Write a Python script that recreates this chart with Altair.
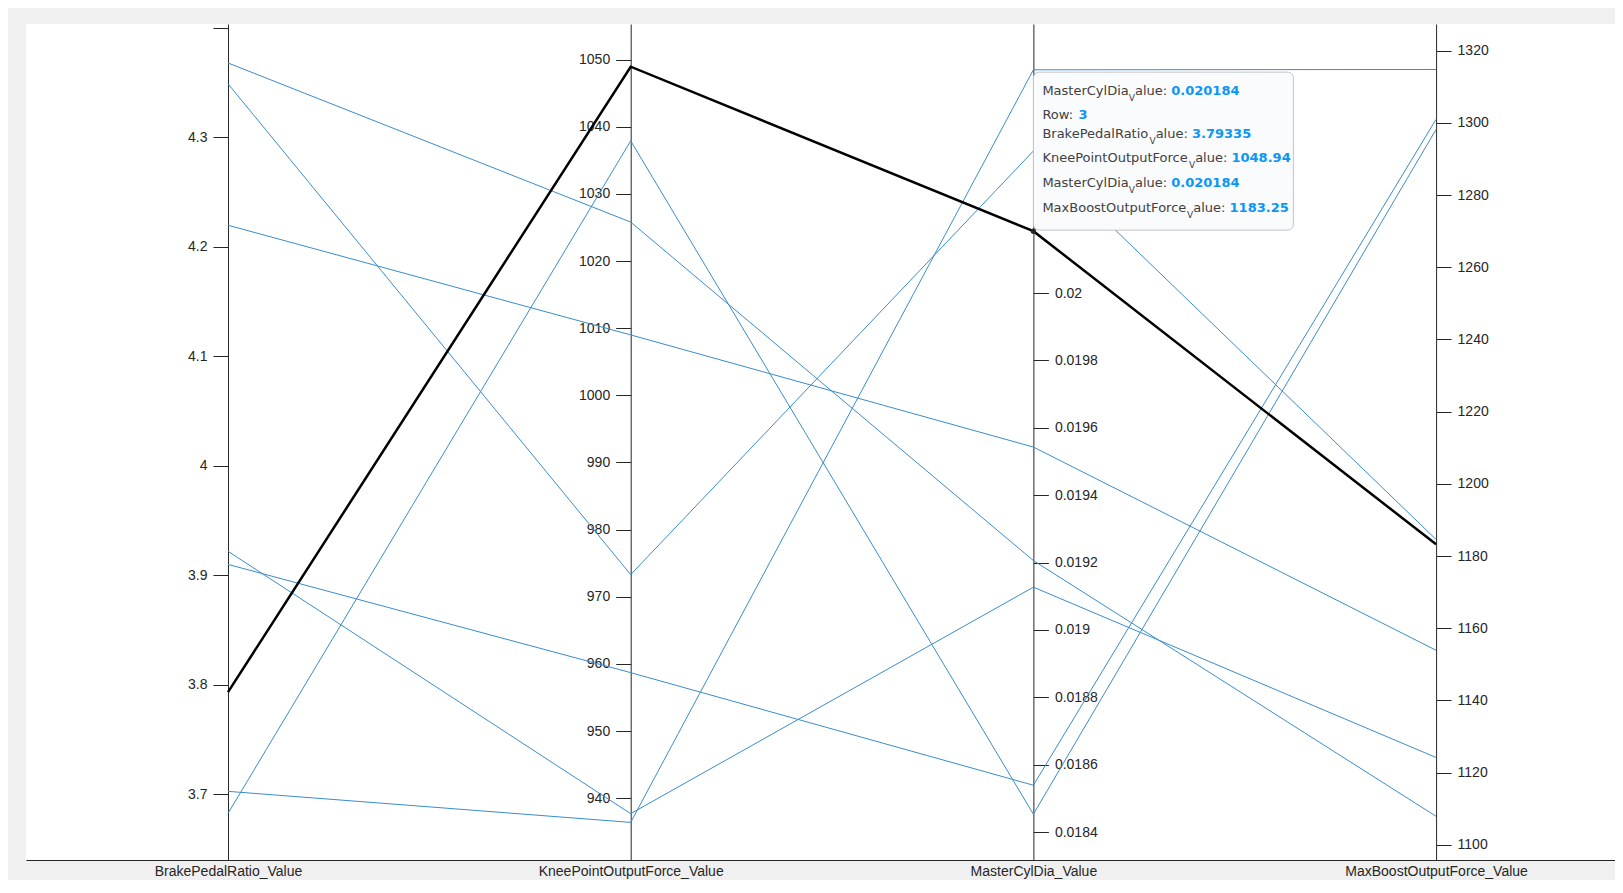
import altair as alt
import pandas as pd

# ---------------- data ----------------
names = ["BrakePedalRatio_Value", "KneePointOutputForce_Value",
         "MasterCylDia_Value", "MaxBoostOutputForce_Value"]
row_ids = [1, 2, 3, 4, 5, 6, 7, 8]
brake = [4.368, 4.349, 3.79335, 4.2198, 3.922, 3.910, 3.7027, 3.6825]
knee = [1025.8, 973.3, 1048.94, 1009.0, 937.7, 958.7, 936.4, 1037.9]
mcd = [0.019206, 0.020422, 0.020184, 0.019543, 0.019127, 0.018539, 0.020663, 0.018453]
maxb = [1107.9, 1184.6, 1183.25, 1153.9, 1124.2, 1301.0, 1314.8, 1298.2]
highlight_row = 3

axis_lo = [3.640, 930.8, 0.018317, 1095.8]
axis_hi = [4.4036, 1055.3, 0.020799, 1327.4]

ticks_brake = [3.7, 3.8, 3.9, 4.0, 4.1, 4.2, 4.3, 4.4]
ticks_knee = [940, 950, 960, 970, 980, 990, 1000, 1010, 1020, 1030, 1040, 1050]
ticks_mcd = [0.0184, 0.0186, 0.0188, 0.019, 0.0192, 0.0194, 0.0196, 0.0198,
             0.02, 0.0202, 0.0204, 0.0206]
ticks_maxb = [1100, 1120, 1140, 1160, 1180, 1200, 1220, 1240, 1260, 1280, 1300, 1320]

tip_keys = ["MasterCylDia_Value", "Row", "BrakePedalRatio_Value",
            "KneePointOutputForce_Value", "MasterCylDia_Value", "MaxBoostOutputForce_Value"]

# ---------------- layout / style ----------------
W, H = 1589, 836
X_DOMAIN = [-0.5016, 3.4443]
INK = "#262626"
BLUE = "#3a8ccc"
FONT = "Liberation Sans"
TIP_FONT = "DejaVu Sans"
TIP_FS = 13
SUB_FS = 9
tip_dy = [-140.5, -115.8, -97.1, -73.1, -47.8, -22.8]
TIP_X0 = 9

series = [brake, knee, mcd, maxb]
recs = []
for i, vals in enumerate(series):
    for r, v in zip(row_ids, vals):
        recs.append({"row": r, "vi": i, "value": v, "lo": axis_lo[i], "hi": axis_hi[i]})
df = pd.DataFrame(recs)

norm_expr = "(datum.value - datum.lo) / (datum.hi - datum.lo)"

labels_js = "[" + ",".join("'" + n + "'" for n in names) + "]"
x_enc = alt.X(
    "vi:Q",
    scale=alt.Scale(domain=X_DOMAIN, nice=False, zero=False),
    axis=alt.Axis(values=[0, 1, 2, 3], labelExpr=labels_js + "[datum.value]",
                  tickSize=0, grid=False, title=None, labelFontSize=14, labelFont=FONT,
                  labelColor=INK, domainColor=INK, domainWidth=1, labelPadding=4,
                  labelOverlap=False, labelLimit=0),
)
y_norm = alt.Y("norm:Q", scale=alt.Scale(domain=[0, 1], nice=False, zero=False), axis=None)

base = alt.Chart(df).transform_calculate(norm=norm_expr)
blue_lines = base.transform_filter(f"datum.row != {highlight_row}").mark_line(
    color=BLUE, strokeWidth=1).encode(x=x_enc, y=y_norm, detail="row:N", order="vi:Q")
black_line = base.transform_filter(f"datum.row == {highlight_row}").mark_line(
    color="black", strokeWidth=2.5).encode(x=x_enc, y=y_norm, detail="row:N", order="vi:Q")

# ---------------- per-variable axes ----------------
px_per_unit = W / (X_DOMAIN[1] - X_DOMAIN[0])


def axis_layer(i, ticks, fmt, orient, label_expr=None):
    px = (i - X_DOMAIN[0]) * px_per_unit
    offset = -px if orient == "left" else -(W - px)
    kw = dict(orient=orient, offset=offset, values=ticks, format=fmt, tickSize=15,
              labelPadding=6, labelFontSize=14, labelFont=FONT, labelColor=INK,
              tickColor=INK, domainColor=INK, domainWidth=1, tickWidth=1, grid=False,
              title=None, labelOverlap=False)
    if label_expr:
        kw["labelExpr"] = label_expr
    d = pd.DataFrame({"vi": [i, i], "v": [axis_lo[i], axis_hi[i]]})
    return alt.Chart(d).mark_point(opacity=0).encode(
        x=x_enc,
        y=alt.Y("v:Q", scale=alt.Scale(domain=[axis_lo[i], axis_hi[i]], nice=False, zero=False),
                axis=alt.Axis(**kw)),
    )


ax1 = axis_layer(0, ticks_brake, ".1~f", "left", "datum.value > 4.35 ? '' : datum.label")
ax2 = axis_layer(1, ticks_knee, "d", "left")
ax3 = axis_layer(2, ticks_mcd, ".4~f", "right")
ax4 = axis_layer(3, ticks_maxb, "d", "right")

# ---------------- data tip ----------------
k = row_ids.index(highlight_row)
tip_vals = [f"{mcd[k]:g}", f"{highlight_row}", f"{brake[k]:g}", f"{knee[k]:g}",
            f"{mcd[k]:g}", f"{maxb[k]:g}"]

DJ = {"M": 863, "a": 613, "s": 521, "t": 392, "e": 615, "r": 411, "C": 698, "y": 592,
      "l": 278, "D": 770, "i": 278, "B": 686, "k": 579, "P": 603, "d": 635, "R": 695,
      "o": 612, "K": 656, "n": 634, "O": 787, "u": 634, "p": 635, "F": 575, "x": 592,
      "w": 818, ":": 337, " ": 318, "V": 684, "c": 550}


def tw(s, fs):
    return sum(DJ.get(ch, 600) for ch in s) * fs / 1000.0


anchor = {"vi": 2, "value": mcd[k], "lo": axis_lo[2], "hi": axis_hi[2]}
anchor_chart = alt.Chart(pd.DataFrame([anchor])).transform_calculate(norm=norm_expr)

tip_box = anchor_chart.mark_rect(
    fill="#fafbfd", stroke="#c3c3c8", strokeWidth=1, cornerRadius=6,
    xOffset=0, x2Offset=260, yOffset=-159, y2Offset=-1,
).encode(x=x_enc, x2=alt.X2("vi:Q"), y=y_norm, y2=alt.Y2("norm:Q"))
tip_dot = anchor_chart.mark_point(filled=True, color=INK, size=28, opacity=1).encode(x=x_enc, y=y_norm)


def tip_piece(txt, dx, dy, **style):
    return anchor_chart.mark_text(
        align="left", baseline="middle", font=TIP_FONT, text=txt, dx=dx, dy=dy, **style
    ).encode(x=x_enc, y=y_norm)


lab_style = dict(fontSize=TIP_FS, color="#404040")
sub_style = dict(fontSize=SUB_FS, color="#404040")
val_style = dict(fontSize=TIP_FS, color="#0a96f5", fontWeight="bold")

tip_layers = []
for j, (key, val) in enumerate(zip(tip_keys, tip_vals)):
    x = TIP_X0
    if "_V" in key:
        prefix, rest = key.split("_V", 1)
        rest = rest + ":"
        tip_layers.append(tip_piece(prefix, x, tip_dy[j], **lab_style))
        x += tw(prefix, TIP_FS)
        tip_layers.append(tip_piece("V", x, tip_dy[j] + 7, **sub_style))
        x += tw("V", SUB_FS)
        tip_layers.append(tip_piece(rest, x, tip_dy[j], **lab_style))
        x += tw(rest, TIP_FS) + tw(" ", TIP_FS)
    else:
        lab = key + ":"
        tip_layers.append(tip_piece(lab, x, tip_dy[j], **lab_style))
        x += tw(lab, TIP_FS) + tw(" ", TIP_FS)
    tip_layers.append(tip_piece(val, x, tip_dy[j], **val_style))

chart = alt.layer(
    blue_lines, black_line, ax1, ax2, ax3, ax4, tip_box, *tip_layers, tip_dot
).resolve_scale(y="independent").properties(
    width=W, height=H,
    padding={"left": 18, "top": 16, "right": 0, "bottom": 20},
    autosize=alt.AutoSizeParams(type="none"),
    background="#f0f0f0",
).configure_view(fill="white", stroke=None)

chart.save("out.html", embed_options={"renderer": "svg", "actions": False})
